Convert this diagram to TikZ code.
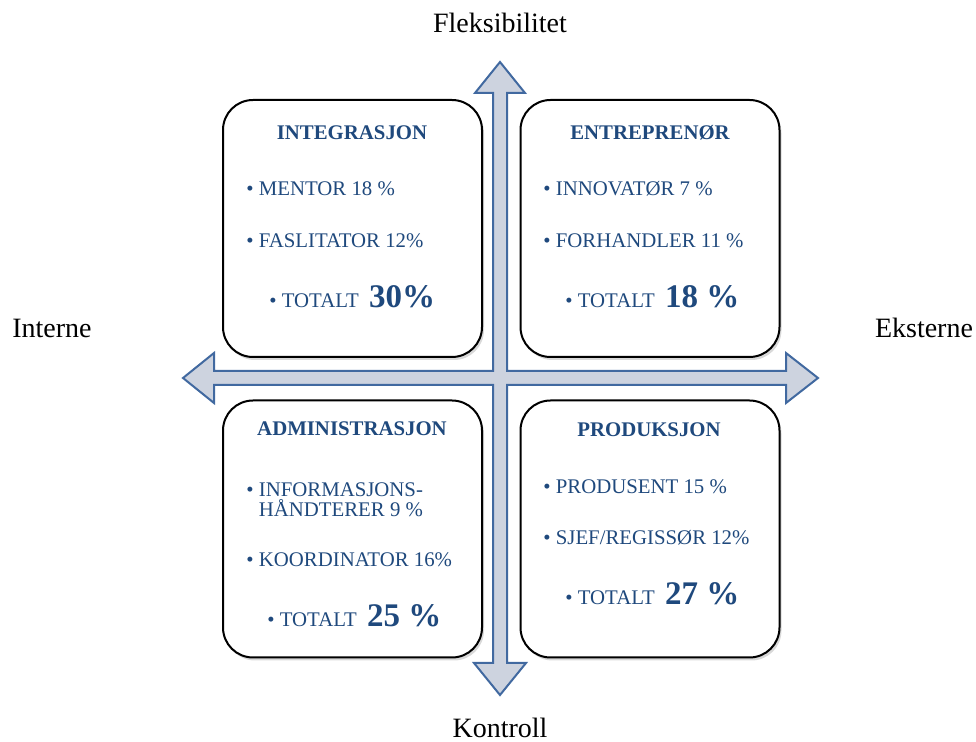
\documentclass[tikz,border=0pt]{standalone}
\usepackage{fontspec}
\setmainfont{Liberation Serif}
\usetikzlibrary{shadows}
\definecolor{textblue}{RGB}{31,73,125}
\definecolor{arrowfill}{RGB}{205,211,223}
\definecolor{arrowline}{RGB}{65,105,160}

\begin{document}
\begin{tikzpicture}[x=0.5pt, y=-0.5pt,
    quadbox/.style={draw=black, line width=1pt, rounded corners=15pt, fill=white,
        minimum width=129.5pt, minimum height=128.5pt,
        drop shadow={opacity=0.3, shadow xshift=1pt, shadow yshift=-1.5pt}},
    heading/.style={anchor=base, text=textblue, font=\fontsize{10.4}{12}\selectfont\bfseries},
    item/.style={anchor=base west, text=textblue, inner sep=0pt, font=\fontsize{10.4}{12}\selectfont},
    axislabel/.style={anchor=base, font=\fontsize{14}{16}\selectfont}]
    \useasboundingbox (0,0) rectangle (976,742);
    \newcommand{\bignum}[1]{{\fontsize{16.5}{18}\selectfont\bfseries #1}}

    % Cross arrow
    \draw[line width=1pt, draw=arrowline, fill=arrowfill, line join=miter]
        (500,62) -- (525,93) -- (507,93) -- (507,371) -- (786,371) -- (786,353)
        -- (818,378) -- (786,403) -- (786,385) -- (507,385) -- (507,663) -- (526,663)
        -- (500,695) -- (474,663) -- (493,663) -- (493,385) -- (214,385) -- (214,403)
        -- (183,378) -- (214,353) -- (214,371) -- (493,371) -- (493,93) -- (475,93) -- cycle;

    % Boxes
    \node[quadbox] (integ) at (352.5,228.5) {};
    \node[quadbox] (entre) at (650,228.5) {};
    \node[quadbox] (admin) at (352.5,529) {};
    \node[quadbox] (prod) at (650,529) {};

    % Axis labels
    \node[axislabel] (fleks) at (500,33) {Fleksibilitet};
    \node[axislabel] (intern) at (52,338) {Interne};
    \node[axislabel] (ekstern) at (924,338) {Eksterne};
    \node[axislabel] (kontroll) at (500,738) {Kontroll};

    % Integrasjon
    \node[heading] (integ-h) at (352,140) {INTEGRASJON};
    \node[item] (integ-1) at (246,196) {• MENTOR 18 \%};
    \node[item] (integ-2) at (246,248) {• FASLITATOR 12\%};
    \node[item] (integ-t) at (269,308) {• TOTALT \ \bignum{30\%}};

    % Entreprenor
    \node[heading] (entre-h) at (650,140) {ENTREPRENØR};
    \node[item] (entre-1) at (543,196) {• INNOVATØR 7 \%};
    \node[item] (entre-2) at (543,248) {• FORHANDLER 11 \%};
    \node[item] (entre-t) at (565,308) {• TOTALT \ \bignum{18 \%}};

    % Administrasjon
    \node[heading] (admin-h) at (352,436) {ADMINISTRASJON};
    \node[item] (admin-1) at (246,497) {• INFORMASJONS-};
    \node[item] (admin-1b) at (246,517) {\hphantom{• }HÅNDTERER 9 \%};
    \node[item] (admin-2) at (246,567) {• KOORDINATOR 16\%};
    \node[item] (admin-t) at (267,627) {• TOTALT \ \bignum{25 \%}};

    % Produksjon
    \node[heading] (prod-h) at (649,437) {PRODUKSJON};
    \node[item] (prod-1) at (543,494) {• PRODUSENT 15 \%};
    \node[item] (prod-2) at (543,545) {• SJEF/REGISSØR 12\%};
    \node[item] (prod-t) at (565,605) {• TOTALT \ \bignum{27 \%}};
\end{tikzpicture}
\end{document}
